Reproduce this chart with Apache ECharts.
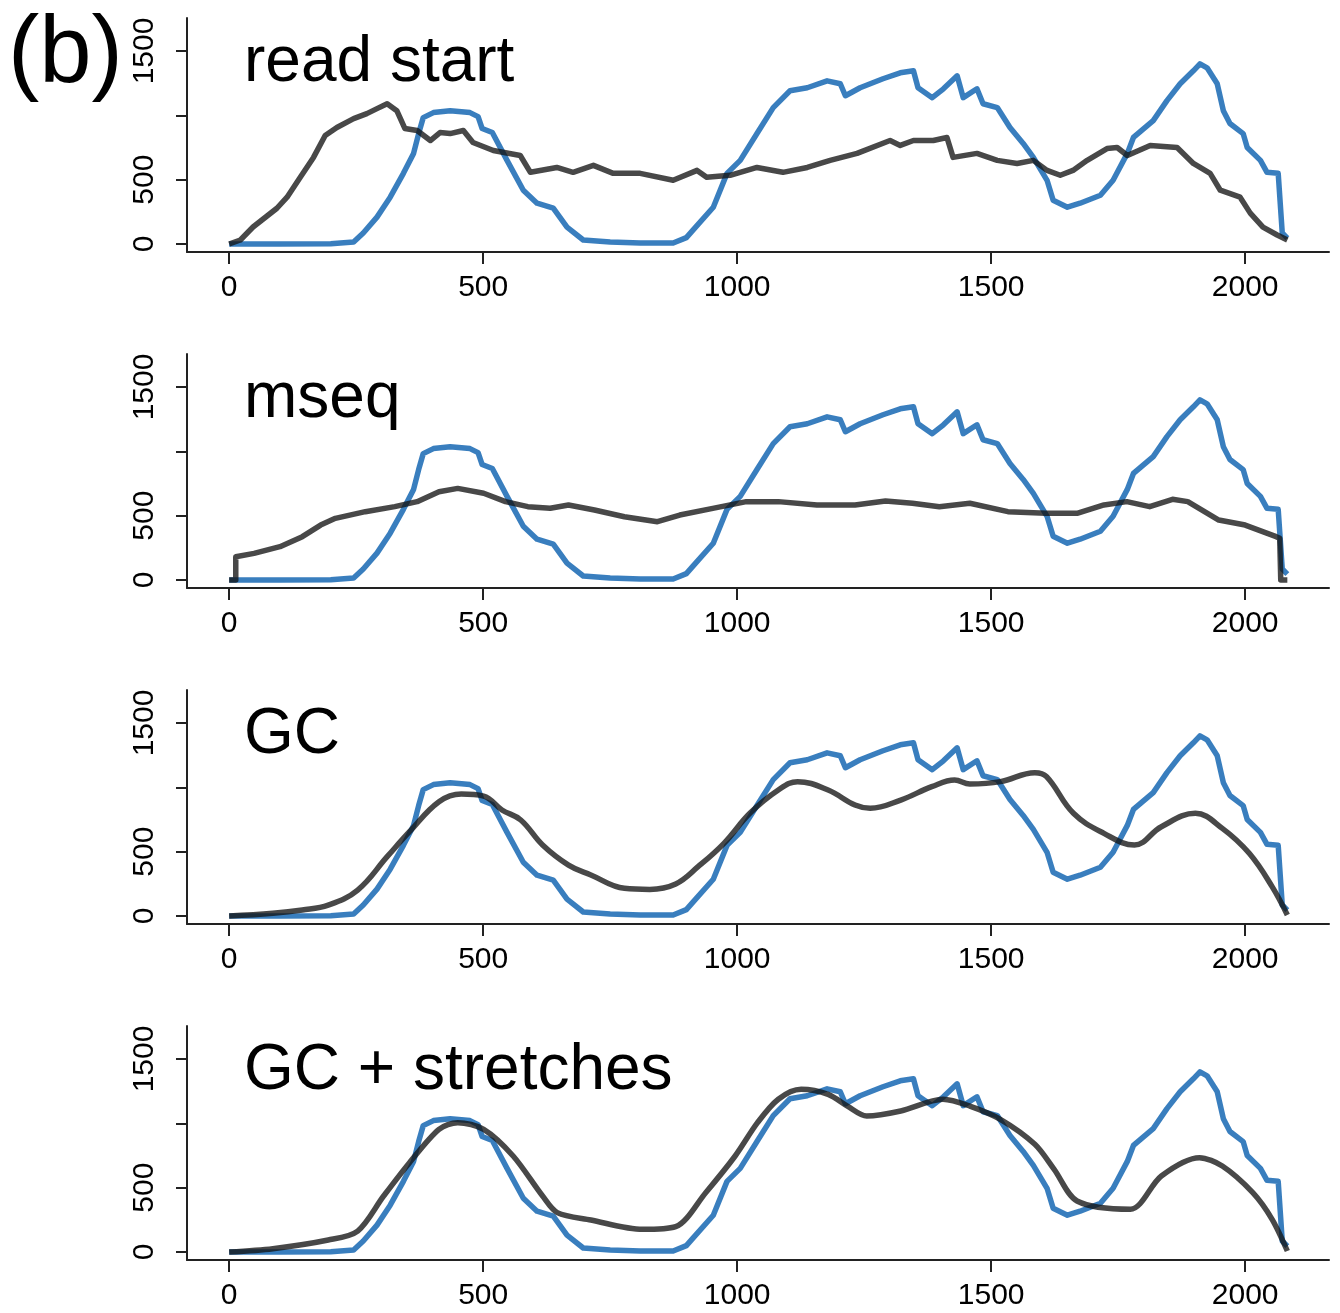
<!DOCTYPE html>
<html>
<head>
<meta charset="utf-8">
<script src="https://cdn.jsdelivr.net/npm/echarts@6/dist/echarts.min.js"></script>
<style>
  html, body { margin: 0; padding: 0; background: #fff; }
  #chart { width: 1340px; height: 1313px; }
</style>
</head>
<body>
<div id="chart"></div>
<script>
// observed coverage (blue), identical in every panel
const observed = [
  [0,0],[100,0],[200,2],[245,15],[264,85],[291,209],[317,364],[343,549],[363,704],[373,858],
  [382,982],[402,1021],[435,1036],[474,1021],[490,990],[498,897],[518,866],[547,650],[579,418],
  [606,317],[638,278],[665,131],[697,31],[750,15],[809,8],[874,8],[900,50],[913,108],[953,286],
  [980,549],[1006,650],[1039,858],[1071,1060],[1104,1191],[1138,1214],[1177,1268],[1203,1245],
  [1213,1152],[1242,1214],[1287,1284],[1321,1330],[1347,1346],[1356,1214],[1384,1137],[1406,1206],
  [1433,1307],[1445,1137],[1472,1206],[1484,1090],[1512,1060],[1537,905],[1563,781],[1583,673],
  [1610,495],[1622,340],[1650,286],[1675,317],[1715,379],[1740,495],[1768,704],[1780,828],
  [1819,959],[1846,1114],[1872,1245],[1898,1346],[1911,1400],[1925,1369],[1945,1245],[1957,1036],
  [1970,936],[1996,858],[2004,750],[2030,650],[2043,557],[2065,549],[2073,85],[2083,46]
];

// model predictions (dark grey)
const readStart = [
  [0,0],[22,31],[47,132],[94,278],[114,364],[140,518],[166,673],[189,843],[212,905],[245,974],
  [271,1013],[291,1052],[311,1090],[330,1036],[346,897],[370,882],[396,804],[415,866],[435,858],
  [461,882],[480,789],[520,727],[573,688],[593,557],[645,595],[677,557],[717,611],[756,549],
  [809,549],[874,495],[921,572],[940,518],[986,534],[1039,595],[1090,557],[1138,595],[1183,650],
  [1236,704],[1301,804],[1321,766],[1347,804],[1386,804],[1413,828],[1425,673],[1472,704],
  [1512,650],[1551,626],[1583,650],[1610,572],[1636,534],[1661,572],[1689,650],[1728,742],
  [1748,750],[1768,688],[1813,766],[1866,750],[1898,626],[1931,549],[1951,418],[1990,364],
  [2010,240],[2035,131],[2063,70],[2083,31]
];

const mseq = [
  [0,0],[13,0],[13,181],[49,207],[100,259],[144,337],[180,427],[209,479],[268,531],[326,570],
  [370,609],[413,686],[450,712],[501,674],[544,609],[588,570],[632,557],[668,583],[719,544],
  [778,492],[843,453],[887,505],[952,557],[1018,609],[1081,609],[1157,583],[1232,583],[1292,614],
  [1345,596],[1398,570],[1458,596],[1533,531],[1608,518],[1669,518],[1722,583],[1767,609],
  [1812,570],[1857,627],[1887,609],[1948,466],[2000,427],[2061,337],[2068,324],[2070,0],[2083,0]
];

const gc = [
  [0,0],[86,21],[144,47],[195,85],[253,202],[311,461],[355,655],[413,888],[457,948],[501,932],
  [537,824],[574,746],[617,552],[668,396],[712,319],[778,215],[828,207],[879,249],[923,383],
  [974,565],[1025,798],[1081,979],[1119,1044],[1179,979],[1232,862],[1262,837],
  [1322,901],[1383,1005],[1428,1057],[1458,1026],[1518,1044],[1586,1114],[1609,1083],[1662,798],
  [1722,642],[1782,552],[1835,694],[1902,798],[1955,681],[2008,487],[2053,228],[2083,8]
];

const gcStretches = [
  [0,0],[86,26],[195,93],[253,163],[304,435],[355,694],[413,953],[450,1005],[501,953],[559,746],
  [617,435],[646,306],[712,249],[814,176],[879,197],[938,461],[996,746],[1040,1005],[1081,1187],
  [1126,1264],[1179,1225],[1217,1134],[1255,1057],[1322,1096],[1405,1187],[1458,1134],[1518,1031],
  [1586,837],[1624,642],[1669,396],[1774,332],[1835,591],[1910,733],[1955,668],[2015,461],
  [2053,254],[2083,8]
];

const panelTitles = ['read start', 'mseq', 'GC', 'GC + stretches'];
const predictions = [readStart, mseq, gc, gcStretches];
const smoothing = [false, false, 0.4, 0.3];
const xTicks = [0, 500, 1000, 1500, 2000];
const yTicks = [0, 500, 1000, 1500];
const yLabels = [0, 500, 1500];

const FONT = '"Liberation Sans", Arial, Helvetica, sans-serif';
const PANEL_STEP = 336;
const GRID = { left: 187, right: 11, top: 18, height: 234 };

const chart = echarts.init(document.getElementById('chart'));

const grids = [], xAxes = [], yAxes = [], series = [], titles = [];

titles.push({
  text: '(b)', left: 3, top: 4,
  textStyle: { fontFamily: FONT, fontSize: 94, fontWeight: 'normal', color: '#000' }
});

panelTitles.forEach((name, i) => {
  grids.push({ left: GRID.left, right: GRID.right, top: GRID.top + PANEL_STEP * i, height: GRID.height });

  titles.push({
    text: name, left: 239, top: 26 + PANEL_STEP * i,
    textStyle: { fontFamily: FONT, fontSize: 64, fontWeight: 'normal', color: '#000' }
  });

  xAxes.push({
    type: 'value', gridIndex: i, min: -83, max: 2165,
    splitLine: { show: false },
    axisLine: { onZero: false, lineStyle: { color: '#222', width: 2 } },
    axisTick: { length: 12, customValues: xTicks, lineStyle: { color: '#222', width: 2 } },
    axisLabel: {
      customValues: xTicks, margin: 21, fontFamily: FONT, fontSize: 30, color: '#000',
      formatter: v => String(v)
    }
  });

  yAxes.push({
    type: 'value', gridIndex: i, min: -62, max: 1756,
    splitLine: { show: false },
    axisLine: { show: true, onZero: false, lineStyle: { color: '#222', width: 2 } },
    axisTick: { show: true, length: 11, customValues: yTicks, lineStyle: { color: '#222', width: 2 } },
    axisLabel: {
      customValues: yLabels, rotate: 90, margin: 27, fontFamily: FONT, fontSize: 30, color: '#000',
      formatter: v => String(v)
    }
  });

  series.push({
    type: 'line', xAxisIndex: i, yAxisIndex: i, data: observed,
    symbol: 'none', silent: true,
    lineStyle: { color: 'rgba(40,115,185,0.92)', width: 5.5, join: 'round' }
  });

  series.push({
    type: 'line', xAxisIndex: i, yAxisIndex: i, data: predictions[i],
    symbol: 'none', silent: true,
    smooth: smoothing[i],
    lineStyle: { color: 'rgba(20,20,20,0.78)', width: 5.5, join: 'round' }
  });
});

chart.setOption({
  animation: false,
  backgroundColor: '#fff',
  title: titles,
  grid: grids,
  xAxis: xAxes,
  yAxis: yAxes,
  series: series
});
</script>
</body>
</html>
